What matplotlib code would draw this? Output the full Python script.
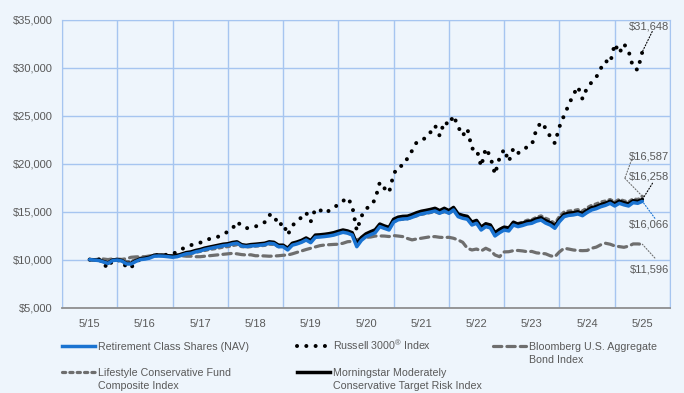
"""Growth of $10,000: Retirement Class Shares vs. benchmark indexes, 5/15 - 5/25."""

import numpy as np
import matplotlib.pyplot as plt
from matplotlib.lines import Line2D
from matplotlib.ticker import FuncFormatter, MultipleLocator
from matplotlib.transforms import offset_copy

plt.rcParams["font.family"] = ["Liberation Sans", "DejaVu Sans"]
plt.rcParams["mathtext.fontset"] = "custom"
plt.rcParams["mathtext.rm"] = "Liberation Sans"

# month-end values, 5/15 .. 5/25
year_labels = ["5/15", "5/16", "5/17", "5/18", "5/19", "5/20",
               "5/21", "5/22", "5/23", "5/24", "5/25"]

retirement = [
    10000, 9950, 9900, 9750, 9600, 9900, 9950, 9850, 9550, 9540, 9800, 10000,
    10050, 10150, 10350, 10370, 10350, 10300, 10240, 10300, 10450, 10600, 10650, 10800,
    10900, 11050, 11150, 11250, 11350, 11450, 11500, 11630, 11700, 11420, 11350, 11420,
    11450, 11500, 11550, 11700, 11650, 11340, 11340, 11000, 11500, 11630, 11800, 12040,
    11760, 12320, 12350, 12400, 12460, 12550, 12700, 12840, 12750, 12560, 11340, 12000,
    12390, 12600, 12800, 13430, 13250, 13080, 13900, 14150, 14230, 14250, 14400, 14600,
    14750, 14850, 14950, 15060, 14820, 15060, 14820, 15170, 14470, 14300, 14200, 13600,
    13780, 13080, 13430, 13300, 12460, 12800, 13080, 12980, 13600, 13430, 13550, 13710,
    13780, 14000, 14120, 13800, 13600, 13260, 13950, 14470, 14600, 14650, 14750, 14570,
    14900, 15170, 15300, 15510, 15650, 15860, 15580, 15860, 15700, 15580, 15930, 15860,
    16066,
]

russell = [
    10000, 10000, 10030, 9540, 9125, 9960, 9900, 9950, 9150, 9150, 9800, 10000,
    10100, 10200, 10400, 10500, 10550, 10450, 10600, 10800, 11100, 11300, 11500, 11650,
    11760, 11950, 12150, 12250, 12400, 12650, 12900, 13220, 13950, 13500, 13260, 13350,
    13430, 13700, 13890, 14650, 14650, 13530, 13840, 12560, 13530, 14000, 14400, 14890,
    13950, 15270, 15170, 14820, 15100, 15340, 15800, 16100, 16450, 15610, 13010, 14500,
    15300, 15580, 16280, 18050, 17430, 16970, 18900, 19700, 19780, 20550, 21340, 22220,
    22500, 22640, 23260, 23950, 22880, 24360, 24020, 25000, 23840, 22900, 23640, 21550,
    21550, 19700, 21590, 20720, 18890, 20610, 21490, 20200, 21590, 21070, 21500, 21700,
    21940, 23570, 24300, 23680, 22800, 22110, 23840, 25000, 26100, 27150, 28010, 26730,
    27900, 28470, 29000, 29930, 30690, 30450, 32460, 31490, 32460, 31730, 29990, 29750,
    31648,
]

bloomberg = [
    10000, 9990, 10040, 10060, 10000, 10080, 10050, 10020, 10100, 10240, 10280, 10300,
    10300, 10380, 10430, 10450, 10450, 10400, 10420, 10500, 10400, 10350, 10350, 10300,
    10300, 10350, 10400, 10450, 10500, 10550, 10600, 10650, 10600, 10520, 10480, 10500,
    10400, 10400, 10380, 10350, 10370, 10400, 10450, 10480, 10600, 10750, 10900, 11050,
    11180, 11320, 11450, 11520, 11550, 11580, 11600, 11700, 11860, 11900, 12050, 12200,
    12320, 12350, 12450, 12460, 12450, 12400, 12500, 12450, 12390, 12200, 12050, 12150,
    12220, 12300, 12380, 12390, 12320, 12300, 12320, 12220, 12040, 11800, 11180, 11000,
    11100, 10900, 11180, 10950, 10480, 10300, 10800, 10820, 10930, 10950, 10900, 10820,
    10850, 10700, 10650, 10600, 10400, 10300, 10800, 11180, 11100, 11000, 10950, 10930,
    10950, 11180, 11300, 11550, 11700, 11600, 11420, 11350, 11280, 11400, 11630, 11630,
    11596,
]

lifestyle = [
    10000, 9990, 9980, 9880, 9780, 9980, 10020, 9950, 9780, 9800, 10000, 10150,
    10200, 10300, 10450, 10480, 10470, 10420, 10350, 10380, 10480, 10580, 10620, 10750,
    10850, 10950, 11050, 11120, 11200, 11300, 11350, 11450, 11550, 11350, 11300, 11350,
    11400, 11430, 11480, 11600, 11580, 11350, 11380, 11100, 11550, 11700, 11850, 12080,
    11900, 12400, 12450, 12500, 12570, 12680, 12800, 12950, 12880, 12700, 11700, 12250,
    12600, 12800, 13000, 13450, 13300, 13200, 13950, 14150, 14200, 14250, 14400, 14550,
    14700, 14800, 14900, 15000, 14800, 15000, 14850, 15100, 14600, 14450, 14350, 13800,
    13950, 13300, 13650, 13550, 12750, 13100, 13400, 13300, 13900, 13750, 13900, 14100,
    14150, 14400, 14550, 14300, 14100, 13750, 14500, 14950, 15050, 15100, 15200, 15050,
    15400, 15650, 15800, 16000, 16100, 16250, 16000, 16280, 16120, 16000, 16330, 16250,
    16587,
]

morningstar = [
    10000, 9980, 9930, 9800, 9650, 9950, 10000, 9900, 9600, 9620, 9880, 10080,
    10150, 10250, 10450, 10470, 10450, 10400, 10350, 10420, 10580, 10730, 10800, 10950,
    11050, 11200, 11300, 11400, 11500, 11600, 11650, 11780, 11850, 11550, 11480, 11560,
    11600, 11650, 11700, 11850, 11800, 11500, 11500, 11180, 11700, 11830, 12000, 12250,
    11980, 12550, 12580, 12630, 12700, 12800, 12950, 13080, 12980, 12800, 11650, 12300,
    12680, 12900, 13100, 13700, 13500, 13350, 14200, 14420, 14500, 14520, 14680, 14880,
    15030, 15120, 15220, 15340, 15100, 15340, 15100, 15430, 14750, 14600, 14500, 13900,
    14080, 13380, 13730, 13600, 12800, 13130, 13380, 13280, 13880, 13700, 13800, 13950,
    14020, 14230, 14350, 14050, 13850, 13500, 14180, 14700, 14830, 14880, 14980, 14800,
    15130, 15400, 15520, 15730, 15870, 16070, 15800, 16080, 15920, 15800, 16130, 16060,
    16258,
]

months = np.arange(len(retirement))

BG = "#eef5fc"
GRID = "#a6c5f0"
BLUE = "#1a73d1"
GRAY = "#6e6e6e"
TEXT = "#595959"

fig = plt.figure(figsize=(6.84, 3.93), dpi=100, facecolor=BG)
ax = fig.add_axes([62 / 684, 1 - 307.6 / 393, 608 / 684, 288.1 / 393], facecolor=BG)

ax.set_xlim(-6, 126)
ax.set_ylim(5000, 35000)

ax.xaxis.set_minor_locator(MultipleLocator(12, offset=6))
ax.set_xticks(months[::12])
ax.set_xticklabels(year_labels)
ax.yaxis.set_major_locator(MultipleLocator(5000))
ax.yaxis.set_major_formatter(FuncFormatter(lambda v, p: f"${v:,.0f}"))

ax.grid(True, which="minor", axis="x", color=GRID, lw=1)
ax.grid(True, which="major", axis="y", color=GRID, lw=1)
ax.tick_params(axis="both", which="both", length=0, labelsize=8, labelcolor=TEXT)
ax.tick_params(axis="x", pad=8)
ax.tick_params(axis="y", pad=7)
for side in ["left", "right", "top"]:
    ax.spines[side].set_color(GRID)
ax.spines["bottom"].set_color("#8f8f8f")
ax.spines["bottom"].set_linewidth(1.3)
ax.set_axisbelow(True)

# series
ax.plot(months, bloomberg, color=GRAY, lw=2.3, ls=(0, (2.6, 1.6)), dash_capstyle="round")
ax.plot(months, lifestyle, color=GRAY, lw=2.3, ls=(0, (1.0, 1.3)), dash_capstyle="round")
ax.plot(months, russell, color="black", lw=2.9, ls=(0, (0.01, 2.3)), dash_capstyle="round")
ax.plot(months, morningstar, color="black", lw=2.5, solid_capstyle="round")
ax.plot(months, retirement, color=BLUE, lw=2.5, solid_capstyle="round")


def shifted(dx, dy):
    return offset_copy(ax.transData, fig=fig, x=dx, y=dy, units="points")


# end-value labels with dotted leaders (offsets in points from the last value)
end = months[-1]
leaders = [
    (russell, "black", [(0, 0), (7.1, 14.5)], (19.4, 17.9)),
    (lifestyle, GRAY, [(0, 0), (-12.6, 13.0), (-7.8, 26.2)], (19.4, 28.4)),
    (morningstar, "black", [(0, 0), (7.3, 11.7)], (19.4, 16.2)),
    (retirement, BLUE, [(0, 0), (9.0, -12.2)], (19.4, -17.0)),
    (bloomberg, GRAY, [(0, 0), (9.0, -9.9)], (19.4, -18.1)),
]
for series, col, path, txt in leaders:
    anchor = (end, series[-1])
    for a, b in zip(path[:-1], path[1:]):
        ax.annotate("", xy=anchor, xycoords=shifted(*a), xytext=anchor,
                    textcoords=shifted(*b), annotation_clip=False,
                    arrowprops=dict(arrowstyle="-", color=col, lw=0.8, ls=":",
                                    shrinkA=0, shrinkB=0))
    ax.annotate(f"${series[-1]:,.0f}", xy=anchor, xytext=txt,
                textcoords="offset points", ha="right", va="center",
                fontsize=8, color=TEXT, annotation_clip=False)

# legend drawn by hand so the handles sit on the first text line
W, H = 684, 393
entries = [
    (62, 346, "Retirement Class Shares (NAV)", dict(color=BLUE, lw=2.5)),
    (297, 346, "Russell 3000$^{®}$ Index",
     dict(color="black", lw=2.9, ls=(0, (0.01, 2.3)), dash_capstyle="round")),
    (493, 346, "Bloomberg U.S. Aggregate\nBond Index",
     dict(color=GRAY, lw=2.3, ls=(0, (2.6, 1.6)), dash_capstyle="round")),
    (62, 372, "Lifestyle Conservative Fund\nComposite Index",
     dict(color=GRAY, lw=2.3, ls=(0, (1.0, 1.3)), dash_capstyle="round")),
    (297, 372, "Morningstar Moderately\nConservative Target Risk Index",
     dict(color="black", lw=2.5)),
]
for x0, y0, label, style in entries:
    fig.add_artist(Line2D([x0 / W, (x0 + 33) / W], [1 - y0 / H, 1 - y0 / H],
                          transform=fig.transFigure, **style))
    for i, line in enumerate(label.split("\n")):
        fig.text((x0 + 36) / W, 1 - (y0 + 4 + 12.8 * i) / H, line, ha="left",
                 va="baseline", fontsize=7.7, color=TEXT)

fig.savefig("out.png", dpi=100, facecolor=BG)
